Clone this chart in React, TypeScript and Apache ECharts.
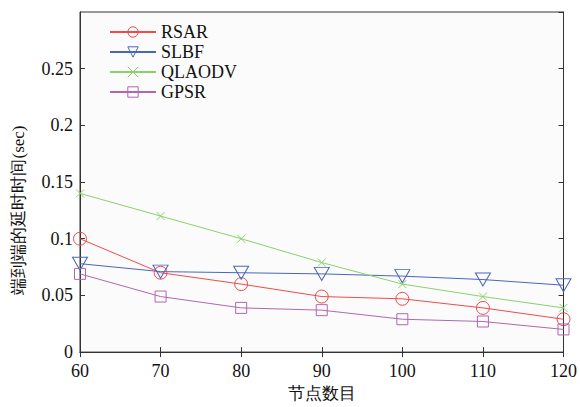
import React, { useEffect, useRef } from "react";
import * as echarts from "echarts";

const nodes = [60, 70, 80, 90, 100, 110, 120];
const rsar = [0.1, 0.07, 0.06, 0.049, 0.047, 0.039, 0.029];
const slbf = [0.078, 0.071, 0.07, 0.069, 0.067, 0.064, 0.059];
const qlaodv = [0.14, 0.12, 0.1, 0.079, 0.06, 0.049, 0.039];
const gpsr = [0.069, 0.049, 0.039, 0.037, 0.029, 0.027, 0.02];
const seriesNames = ["RSAR", "SLBF", "QLAODV", "GPSR"];
const xTitle = "节点数目";
const yTitle = "端到端的延时时间(sec)";

const serif = "Times New Roman";
const cjk = "Times New Roman";

export default function App() {
  const ref = useRef<HTMLDivElement>(null);
  useEffect(() => {
    const chart = echarts.init(ref.current!, null, { renderer: "svg" });
    const mk = (arr: number[]) => arr.map((v, i) => [nodes[i], v]);
    const colors = ["#ef4b4b", "#4a66bb", "#8bd06c", "#b067b0"];
    const symbols = [
      "path://M10,5A5,5,0,1,1,0,5A5,5,0,1,1,10,5Z",
      "path://M0,0L12,0L6,10Z",
      "path://M0,0L10,10M10,0L0,10",
      "path://M0,0L10,0L10,10L0,10Z",
    ];
    const sizes: any[] = [13, [15, 13], 8, 11];
    const datas = [rsar, slbf, qlaodv, gpsr];
    const axisLine = { show: true, lineStyle: { color: "#333", width: 1 } };
    chart.setOption({
      animation: false,
      backgroundColor: "#ffffff",
      grid: { left: 80, right: 13, top: 12, bottom: 53, show: true, borderColor: "#333", borderWidth: 1, backgroundColor: "#fbfbfb" },
      legend: {
        orient: "vertical",
        left: 104,
        top: 18,
        itemWidth: 46,
        itemHeight: 13,
        itemGap: 2,
        itemStyle: { borderWidth: 1 },
        textStyle: { fontFamily: serif, fontSize: 18, color: "#111" },
        data: seriesNames,
      },
      graphic: [
        {
          type: "text",
          x: 18,
          y: 210,
          rotation: Math.PI / 2,
          style: {
            text: yTitle,
            fontFamily: cjk,
            fontSize: 17,
            fill: "#111",
            align: "center",
            verticalAlign: "middle",
          },
        },
      ],
      xAxis: [
        {
          type: "value",
          min: 60,
          max: 120,
          interval: 10,
          name: xTitle,
          nameLocation: "middle",
          nameGap: 32,
          nameTextStyle: { fontFamily: cjk, fontSize: 17, color: "#111" },
          axisLine,
          axisTick: { inside: true, length: 5, lineStyle: { color: "#333" } },
          axisLabel: { fontFamily: serif, fontSize: 18, color: "#111", margin: 10 },
          splitLine: { show: false },
        },
        {
          type: "value",
          position: "top",
          min: 60,
          max: 120,
          interval: 10,
          axisLine,
          axisTick: { inside: true, length: 5, lineStyle: { color: "#333" } },
          axisLabel: { show: false },
          splitLine: { show: false },
        },
      ],
      yAxis: [
        {
          type: "value",
          min: 0,
          max: 0.3,
          interval: 0.05,
          axisLine,
          axisTick: { inside: true, length: 5, lineStyle: { color: "#333" } },
          axisLabel: { fontFamily: serif, fontSize: 18, color: "#111", margin: 7, showMaxLabel: false },
          splitLine: { show: false },
        },
        {
          type: "value",
          position: "right",
          min: 0,
          max: 0.3,
          interval: 0.05,
          axisLine,
          axisTick: { inside: true, length: 5, lineStyle: { color: "#333" } },
          axisLabel: { show: false },
          splitLine: { show: false },
        },
      ],
      series: datas.map((d, i) => ({
        name: seriesNames[i],
        type: "line",
        data: mk(d),
        symbol: symbols[i],
        symbolSize: sizes[i],
        showAllSymbol: true,
        lineStyle: { color: colors[i], width: 1 },
        itemStyle: { color: "transparent", borderColor: colors[i], borderWidth: 1 },
        emphasis: { disabled: true },
      })),
    });
    return () => chart.dispose();
  }, []);
  return <div ref={ref} style={{ width: 580, height: 407, position: "absolute", left: 0, top: 0 }} />;
}
